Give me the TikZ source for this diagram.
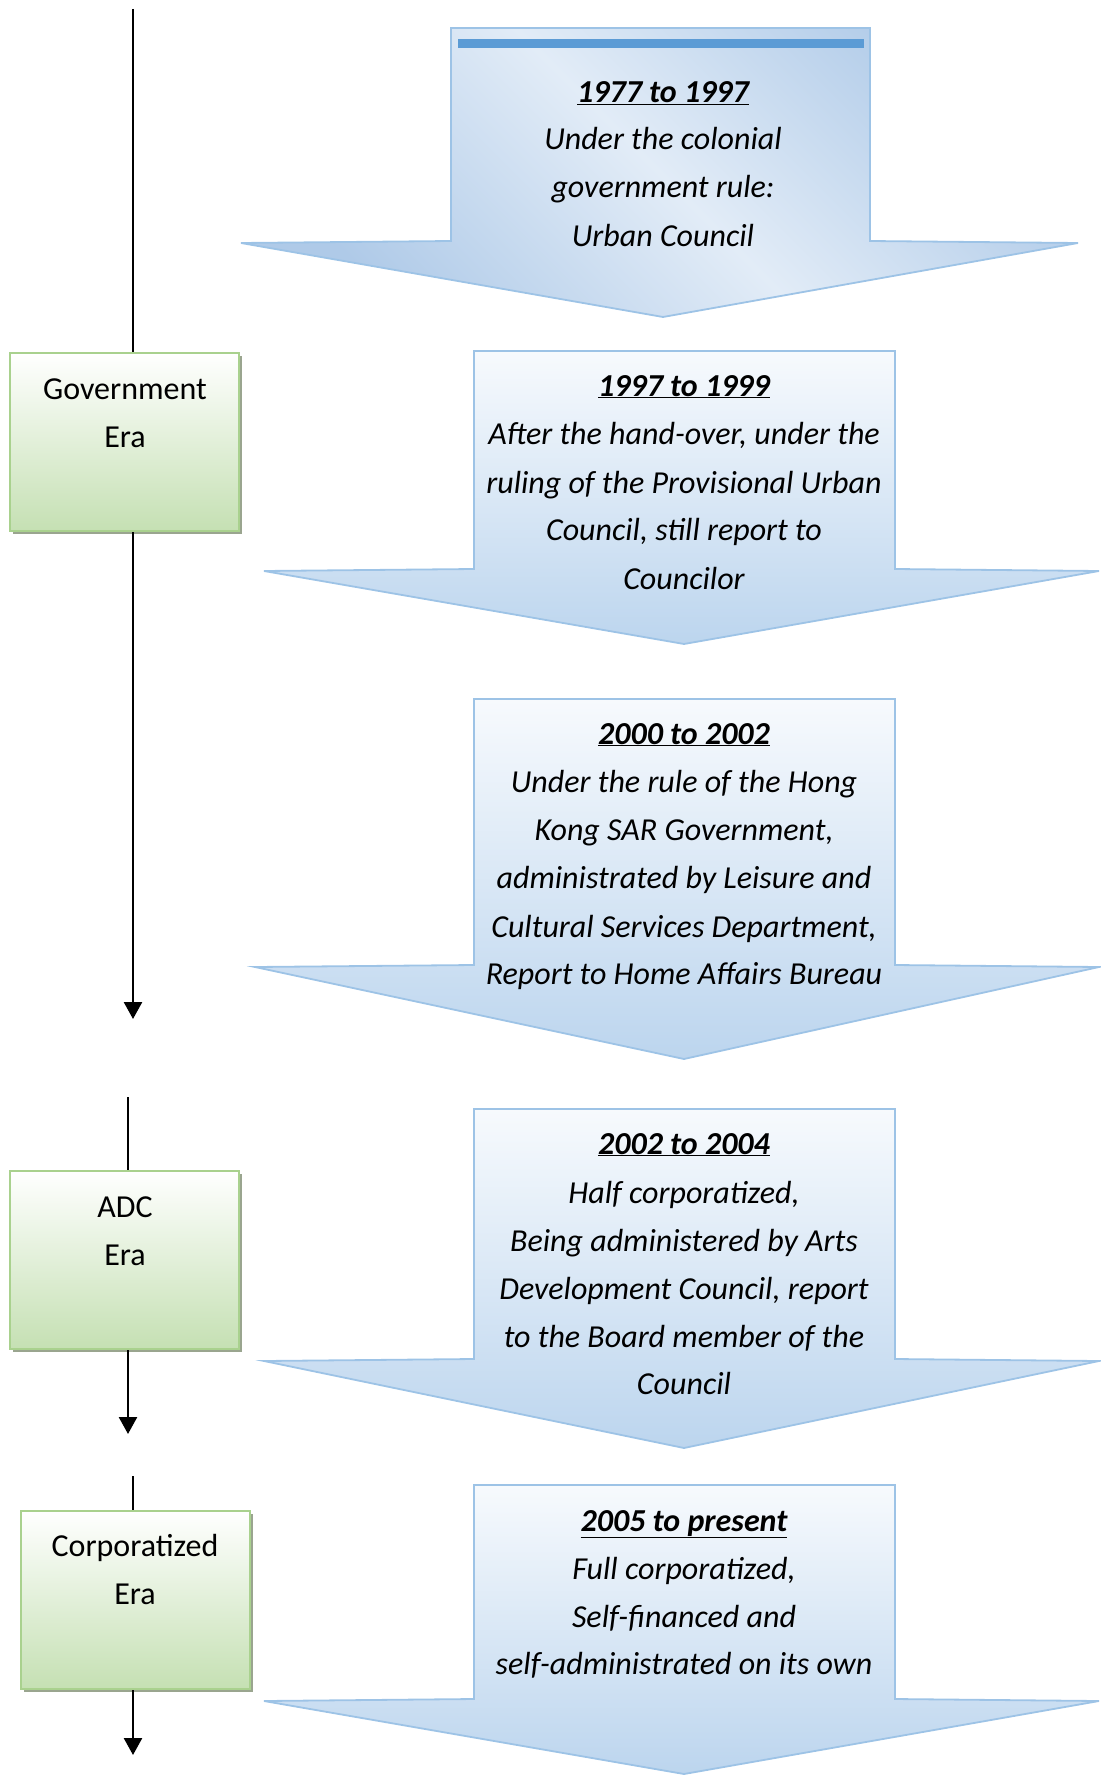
\documentclass[tikz,border=0pt]{standalone}
\usepackage{fontspec}
\setmainfont{Carlito}
\usetikzlibrary{arrows.meta,shadows}
\definecolor{arrowtop}{HTML}{F7FAFD}
\definecolor{arrowbot}{HTML}{BCD5EE}
\definecolor{arrowline}{HTML}{9DC3E6}
\definecolor{arrowdiagA}{HTML}{E2ECF7}
\definecolor{arrowdiagB}{HTML}{AFCAE8}
\definecolor{barblue}{HTML}{5B9BD5}
\definecolor{boxbot}{HTML}{C5E0B3}
\definecolor{boxline}{HTML}{A9D18E}
\definecolor{boxshadow}{HTML}{9AA58F}
\begin{document}
\begin{tikzpicture}[x=1pt,y=-1pt,
  bigarrow/.style={draw=arrowline, line width=1.8pt, line join=miter, top color=arrowtop, bottom color=arrowbot},
  erabox/.style={draw=boxline, line width=2pt, top color=white, bottom color=boxbot, minimum width=229pt, minimum height=178pt, inner sep=0pt, anchor=north west,
    drop shadow={shadow xshift=3pt, shadow yshift=-3pt, fill=boxshadow, opacity=1}},
  boxtxt/.style={font=\fontsize{32}{40}\selectfont, anchor=base, inner sep=0pt},
  txt/.style={font=\fontsize{32}{40}\selectfont\itshape, anchor=base, inner sep=0pt},
  head/.style={font=\fontsize{32}{40}\selectfont\bfseries\itshape, anchor=base, inner sep=0pt},
  conn/.style={line width=2.6pt, black},
  connarrow/.style={conn, -{Triangle[width=18pt,length=17pt]}}
]
\useasboundingbox (0,0) rectangle (1100,1776);

% ---------- big arrows ----------
% Arrow 1 (diagonal gradient)
\path[draw=arrowline, line width=1.8pt, line join=miter, left color=arrowdiagB, right color=arrowdiagB, middle color=arrowdiagA, shading angle=-45]
  (451,28) -- (870,28) -- (870,241) -- (1078,243) -- (663,317) -- (241,243) -- (451,241) -- cycle;
\fill[barblue] (458,39) rectangle (864,48);
% Arrow 2
\path[bigarrow] (474,351) -- (895,351) -- (895,569) -- (1099,571) -- (684,644) -- (264,571) -- (474,569) -- cycle;
% Arrow 3
\path[bigarrow] (474,699) -- (895,699) -- (895,965) -- (1099,967) -- (684,1059) -- (255,967) -- (474,965) -- cycle;
% Arrow 4
\path[bigarrow] (474,1109) -- (895,1109) -- (895,1359) -- (1099,1361) -- (684,1448) -- (264,1361) -- (474,1359) -- cycle;
% Arrow 5
\path[bigarrow] (474,1485) -- (895,1485) -- (895,1699) -- (1099,1701) -- (684,1774) -- (264,1701) -- (474,1699) -- cycle;

% ---------- arrow texts ----------
\node[head] (a1h) at (663,103) {\underline{1977 to 1997}};
\node[txt] (a1l1) at (663,150) {Under the colonial};
\node[txt] (a1l2) at (663,198) {government rule:};
\node[txt] (a1l3) at (663,247) {Urban Council};

\node[head] (a2h) at (684,396) {\underline{1997 to 1999}};
\node[txt] (a2l1) at (684,444) {After the hand-over, under the};
\node[txt] (a2l2) at (684,493) {ruling of the Provisional Urban};
\node[txt] (a2l3) at (684,540) {Council, still report to};
\node[txt] (a2l4) at (684,589) {Councilor};

\node[head] (a3h) at (684,744) {\underline{2000 to 2002}};
\node[txt] (a3l1) at (684,792) {Under the rule of the Hong};
\node[txt] (a3l2) at (684,840) {Kong SAR Government,};
\node[txt] (a3l3) at (684,888) {administrated by Leisure and};
\node[txt] (a3l4) at (684,937) {Cultural Services Department,};
\node[txt] (a3l5) at (684,984) {Report to Home Affairs Bureau};

\node[head] (a4h) at (684,1154) {\underline{2002 to 2004}};
\node[txt] (a4l1) at (684,1203) {Half corporatized,};
\node[txt] (a4l2) at (684,1251) {Being administered by Arts};
\node[txt] (a4l3) at (684,1299) {Development Council, report};
\node[txt] (a4l4) at (684,1347) {to the Board member of the};
\node[txt] (a4l5) at (684,1394) {Council};

\node[head] (a5h) at (684,1531) {\underline{2005 to present}};
\node[txt] (a5l1) at (684,1579) {Full corporatized,};
\node[txt] (a5l2) at (684,1627) {Self-financed and};
\node[txt] (a5l3) at (684,1674) {self-administrated on its own};

% ---------- era boxes ----------
\node[erabox] (gov) at (9,352) {};
\node[boxtxt] (govt1) at (125,399) {Government};
\node[boxtxt] (govt2) at (125,447) {Era};

\node[erabox] (adc) at (9,1170) {};
\node[boxtxt] (adct1) at (125,1217) {ADC};
\node[boxtxt] (adct2) at (125,1265) {Era};

\node[erabox] (corp) at (20,1510) {};
\node[boxtxt] (corpt1) at (135,1556) {Corporatized};
\node[boxtxt] (corpt2) at (135,1604) {Era};

% ---------- timeline connectors ----------
\coordinate (s1) at (133,9);
\coordinate (e1) at (133,1019);
\coordinate (s2) at (128,1097);
\coordinate (e2) at (128,1434);
\coordinate (s3) at (133,1476);
\coordinate (e3) at (133,1755);

\draw[conn] (s1) -- (s1 |- gov.north);
\draw[connarrow] (e1 |- gov.south) -- (e1);
\draw[conn] (s2) -- (s2 |- adc.north);
\draw[connarrow] (e2 |- adc.south) -- (e2);
\draw[conn] (s3) -- (s3 |- corp.north);
\draw[connarrow] (e3 |- corp.south) -- (e3);
\end{tikzpicture}
\end{document}
